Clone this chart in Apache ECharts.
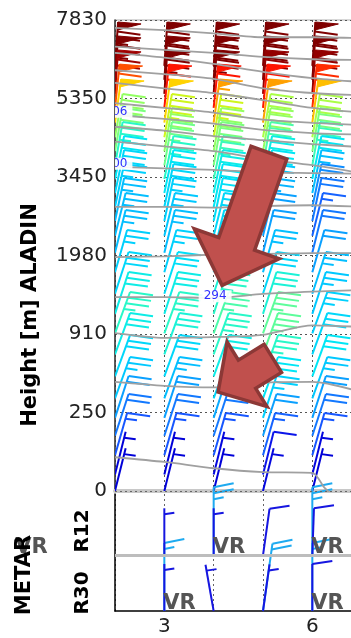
<!DOCTYPE html>
<html><head><meta charset="utf-8">
<script src="https://cdn.jsdelivr.net/npm/echarts@6/dist/echarts.min.js"></script>
<style>html,body{margin:0;padding:0;background:#fff}#c{width:351px;height:638px}</style>
</head><body><div id="c"></div>
<script>
// ---------------- DATA ----------------
const heightTickLabels = ['0','250','910','1980','3450','5350','7830'];
const xTickLabelValues = [3, 6];
const columns = [2, 3, 4, 5, 6];
// model levels (position on the height index axis), top -> bottom
const levels = [5.415,5.237,5.059,4.881,4.693,4.506,4.327,4.149,3.975,3.796,3.618,3.439,3.252,3.036,2.786,2.512,2.257,2.008,1.740,1.460,1.180,0.932,0.703,0.455,0.21,0.0];
// barb tilt (deg, clockwise from north) per level
const levelTilt = [4,4,4,6,8,10,10,10,12,12,12,12,14,14,16,18,18,20,20,20,20,18,18,16,14,14];
// wind speed (kt) per column, top -> bottom
const speedCol2 = [75,75,70,60,50,40,38,33,30,28,27,25,25,25,27,28,31,33,31,28,26,22,18,15,5,5];
const speedCol3 = [80,80,75,65,50,45,40,37,33,30,28,27,26,25,27,29,31,33,32,28,25,22,18,15,5,5];
const speedCol4 = [80,80,75,65,55,45,40,38,34,31,30,29,28,28,30,32,33,35,33,31,28,23,18,15,6,5];
const speedCol5 = [80,78,72,65,55,42,40,35,31,30,26,24,22,22,25,28,32,36,36,33,30,27,22,16,8,6];
const speedCol6 = [80,78,72,63,52,42,38,34,30,25,20,18,16,18,22,25,26,27,28,30,26,22,18,15,6,5];
const speedsByColumn = [speedCol2, speedCol3, speedCol4, speedCol5, speedCol6];

// isentropes: theta (K) and [x, heightIndex] samples
const isoTheta = [318,316,314,312,310,308,306,304,302,300,298,296,294,292,290,288];
const isoLines = [
  [[2,5.90],[3,5.87],[4,5.83],[5,5.78],[6,5.78],[7,5.77]],
  [[2,5.66],[3,5.62],[4,5.58],[5,5.53],[6,5.50],[7,5.49]],
  [[2,5.58],[3,5.52],[4,5.44],[5,5.34],[6,5.26],[7,5.21]],
  [[2,5.36],[3,5.31],[4,5.25],[5,5.13],[6,5.07],[7,5.04]],
  [[2,5.20],[3,5.13],[4,5.07],[5,4.98],[6,4.88],[7,4.82]],
  [[2,4.94],[3,4.88],[4,4.82],[5,4.73],[6,4.69],[7,4.66]],
  [[2,4.79],[3,4.74],[4,4.68],[5,4.60],[6,4.56],[7,4.54]],
  [[2,4.64],[3,4.59],[4,4.52],[5,4.47],[6,4.42],[7,4.38]],
  [[2,4.45],[3,4.39],[4,4.33],[5,4.23],[6,4.15],[7,4.05]],
  [[2,4.13],[3,4.11],[4,4.09],[5,4.06],[6,4.05],[7,4.04]],
  [[2,3.62],[3,3.62],[4,3.61],[5,3.63],[6,3.64],[7,3.62]],
  [[2,2.98],[3,2.99],[4,3.01],[5,3.02],[6,3.03],[7,3.03]],
  [[2,2.47],[3,2.47],[4,2.46],[5,2.51],[6,2.54],[7,2.56]],
  [[2,2.01],[3,1.95],[4,1.96],[5,1.99],[6,2.11],[7,2.09]],
  [[2,1.39],[3,1.34],[4,1.32],[5,1.38],[6,1.39],[7,1.26]],
  [[2,0.43],[3,0.37],[4,0.29],[5,0.24],[6,0.23],[6.25,0.04],[6.5,-0.1]]
];
const isoLabelText = ['306','300','294'];
const isoLabelX = [2.02, 2.02, 4.03];
const isoLabelY = [4.83, 4.17, 2.48];

// METAR rows: R30 anchored at 0, R12 anchored at 1
const metarRowLabels = ['R30','R12'];
const metarWindR12 = [[3,1,5,0],[4,1,5,0],[5,1,10,8],[6,1,10,2]];
const metarGustR12 = [[4,1,25,0],[6,1,25,0]];
const metarWindR30 = [[3,0,5,0],[4,0,5,-10],[5,0,5,8],[6,0,10,0]];
const metarGustR30 = [[3,0,15,0],[5,0,20,8],[6,0,15,0]];
const metarVR = [[0,1],[4,1],[6,1],[3,0],[6,0]];

// annotation arrows: [tailX, tailY, tipX, tipY]
const arrowBig = [5.12, 4.31, 4.17, 2.62];
const arrowSmall = [5.20, 1.69, 4.09, 1.26];

// ---------------- STYLE ----------------
const FONT = '"DejaVu Sans", "Liberation Sans", sans-serif';
const colorStops = [[5,[0,0,216]],[12,[26,50,255]],[17,[20,110,255]],[22,[10,160,255]],[26,[0,200,255]],[30,[0,230,245]],[33,[40,248,200]],[37,[110,255,140]],[42,[170,255,70]],[47,[230,240,0]],[50,[255,210,0]],[55,[255,160,0]],[60,[255,80,0]],[65,[255,20,0]],[70,[160,0,0]],[75,[128,0,0]]];
function speedColor(s){
  if (s <= colorStops[0][0]) return 'rgb(' + colorStops[0][1].join(',') + ')';
  for (let i = 1; i < colorStops.length; i++) {
    if (s <= colorStops[i][0]) {
      const a = colorStops[i-1], b = colorStops[i];
      const f = (s - a[0]) / (b[0] - a[0]);
      const c = a[1].map((v, k) => Math.round(v + (b[1][k] - v) * f));
      return 'rgb(' + c.join(',') + ')';
    }
  }
  return 'rgb(' + colorStops[colorStops.length-1][1].join(',') + ')';
}

function makeBarbRenderer(len, slope, fixedColor, lw, FL) {
  return function (params, api) {
    const p = api.coord([api.value(0), api.value(1)]);
    const spd = api.value(2);
    const t = api.value(3) * Math.PI / 180;
    const color = fixedColor || speedColor(spd);
    const ux = Math.sin(t), uy = -Math.cos(t);
    const ex = p[0] + ux * len, ey = p[1] + uy * len;
    const st = {stroke: color, lineWidth: lw, lineCap: 'butt'};
    const ch = [{type: 'line', shape: {x1: p[0], y1: p[1], x2: ex, y2: ey}, style: st}];
    let r = Math.round(spd / 5) * 5;
    const nP = Math.floor(r / 50); r -= nP * 50;
    const nF = Math.floor(r / 10); r -= nF * 10;
    const nH = r >= 5 ? 1 : 0;
    const PW = 8, SP = 6;
    const at = o => [ex - ux * o, ey - uy * o];
    let off = 0;
    for (let i = 0; i < nP; i++) {
      const a = at(off), c = at(off + PW);
      ch.push({type: 'polygon', shape: {points: [a, [a[0] + FL, a[1] + FL * slope * 0.6], c]}, style: {fill: color, stroke: color, lineWidth: 1}});
      off += PW + 1.5;
    }
    for (let i = 0; i < nF; i++) {
      const a = at(off);
      ch.push({type: 'line', shape: {x1: a[0], y1: a[1], x2: a[0] + FL, y2: a[1] + FL * slope}, style: st});
      off += SP;
    }
    if (nH) {
      if (nP + nF === 0) off = SP;
      const a = at(off);
      ch.push({type: 'line', shape: {x1: a[0], y1: a[1], x2: a[0] + FL / 2, y2: a[1] + FL / 2 * slope}, style: st});
    }
    return {type: 'group', children: ch};
  };
}

const arrowStyle = {big: {shaft: 38, head: 90, headLen: 44}, small: {shaft: 33, head: 76, headLen: 34}};
function makeArrowRenderer(geom) {
  return function (params, api) {
    const a = api.coord([api.value(0), api.value(1)]);
    const b = api.coord([api.value(2), api.value(3)]);
    const dx = b[0] - a[0], dy = b[1] - a[1];
    const L = Math.hypot(dx, dy);
    const d = [dx / L, dy / L], n = [-d[1], d[0]];
    const hb = [b[0] - d[0] * geom.headLen, b[1] - d[1] * geom.headLen];
    const P = (pt, k) => [pt[0] + n[0] * k, pt[1] + n[1] * k];
    const pts = [P(a, geom.shaft / 2), P(hb, geom.shaft / 2), P(hb, geom.head / 2), b, P(hb, -geom.head / 2), P(hb, -geom.shaft / 2), P(a, -geom.shaft / 2)];
    return {type: 'polygon', shape: {points: pts}, style: {fill: '#c0504d', stroke: '#8c3836', lineWidth: 3.5, lineJoin: 'miter'}};
  };
}

// ---------------- BUILD ----------------
const barbData = [];
columns.forEach((x, ci) => {
  levels.forEach((lv, li) => {
    barbData.push([x, lv, speedsByColumn[ci][li], levelTilt[li]]);
  });
});

const series = [];
series.push({
  type: 'custom', xAxisIndex: 0, yAxisIndex: 0, clip: true, z: 2, silent: true,
  renderItem: makeBarbRenderer(44, 0.14, null, 2, 23), data: barbData
});
isoLines.forEach((ln, i) => {
  const s = {
    type: 'line', name: String(isoTheta[i]), xAxisIndex: 0, yAxisIndex: 0, data: ln,
    showSymbol: false, symbol: 'none', smooth: 0.25, clip: true, silent: true, z: 3,
    lineStyle: {color: '#a0a0a0', width: 1.8}
  };
  if (i === 0) {
    s.markLine = {silent: true, symbol: 'none', label: {show: false}, animation: false,
      lineStyle: {color: '#666', type: [2, 3], width: 1}, data: [{yAxis: 0}]};
  }
  series.push(s);
});
series.push({
  type: 'custom', xAxisIndex: 0, yAxisIndex: 0, clip: true, z: 4, silent: true,
  data: isoLabelText.map((t, i) => [isoLabelX[i], isoLabelY[i], i]),
  renderItem: function (params, api) {
    const p = api.coord([api.value(0), api.value(1)]);
    return {type: 'text', x: p[0], y: p[1], style: {text: isoLabelText[api.value(2)], align: 'center', verticalAlign: 'middle',
      fill: '#3030ff', font: '12px ' + FONT, backgroundColor: 'rgba(255,255,255,0.9)', padding: [0, 5]}};
  }
});
series.push({type: 'custom', xAxisIndex: 0, yAxisIndex: 0, clip: false, z: 6, silent: true,
  renderItem: makeArrowRenderer(arrowStyle.big), data: [arrowBig]});
series.push({type: 'custom', xAxisIndex: 0, yAxisIndex: 0, clip: false, z: 6, silent: true,
  renderItem: makeArrowRenderer(arrowStyle.small), data: [arrowSmall]});

// METAR panel
const metarDark = '#1616e0', metarLight = '#1eaaf0';
series.push({type: 'custom', xAxisIndex: 1, yAxisIndex: 1, clip: false, z: 3, silent: true,
  renderItem: makeBarbRenderer(68, -0.2, metarLight, 2, 20), data: metarGustR30.concat(metarGustR12),
  markLine: {silent: true, symbol: 'none', label: {show: false}, animation: false,
    lineStyle: {color: '#bdbdbd', type: 'solid', width: 3}, data: [{yAxis: 1}]}});
series.push({type: 'custom', xAxisIndex: 1, yAxisIndex: 1, clip: false, z: 4, silent: true,
  renderItem: makeBarbRenderer(47, -0.15, metarDark, 2, 20), data: metarWindR30.concat(metarWindR12)});
series.push({type: 'custom', xAxisIndex: 1, yAxisIndex: 1, clip: false, z: 5, silent: true,
  data: metarVR,
  renderItem: function (params, api) {
    const p = api.coord([api.value(0), api.value(1)]);
    return {type: 'text', x: p[0] - 1, y: p[1] + 3, style: {text: 'VR', align: 'left', verticalAlign: 'bottom',
      fill: '#555', font: 'bold 21px ' + FONT}};
  }
});

const option = {
  animation: false,
  backgroundColor: '#fff',
  grid: [
    {left: 115, top: 20, width: 246.65, height: 471, outerBoundsMode: 'none', containLabel: false, show: true, borderColor: '#b0b0b0', borderWidth: 1, backgroundColor: 'transparent'},
    {left: 115, top: 494, width: 246.65, height: 117, outerBoundsMode: 'none', containLabel: false}
  ],
  xAxis: [
    {gridIndex: 0, type: 'value', min: 2, max: 7, interval: 1, position: 'bottom',
      axisLine: {show: true, onZero: false, lineStyle: {color: '#c8c8c8', width: 4}},
      axisTick: {show: false}, axisLabel: {show: false},
      splitLine: {show: true, lineStyle: {color: '#555', type: [2, 3], width: 1}}},
    {gridIndex: 1, type: 'value', min: 2, max: 7, interval: 1, position: 'bottom',
      axisLine: {show: true, onZero: false, lineStyle: {color: '#000', width: 1.5}},
      axisTick: {show: false},
      axisLabel: {show: true, margin: 6, fontSize: 20, fontFamily: FONT, color: '#222',
        formatter: v => (xTickLabelValues.indexOf(v) >= 0 ? String(v) : '')},
      splitLine: {show: true, lineStyle: {color: '#666', type: [2, 3], width: 1}}}
  ],
  yAxis: [
    {gridIndex: 0, type: 'value', min: 0, max: 6, interval: 1,
      axisLine: {show: true, onZero: false, lineStyle: {color: '#333', width: 1.5}},
      axisTick: {show: false},
      axisLabel: {show: true, margin: 8, fontSize: 20, fontFamily: FONT, color: '#222', padding: [0, 0, 9, 0],
        formatter: v => (heightTickLabels[Math.round(v)] !== undefined && Math.abs(v - Math.round(v)) < 1e-6 ? heightTickLabels[Math.round(v)] : '')},
      splitLine: {show: true, lineStyle: {color: '#555', type: [2, 3], width: 1}}},
    {gridIndex: 1, type: 'value', min: 0, max: 2.1,
      axisLine: {show: true, onZero: false, lineStyle: {color: '#000', width: 1.5}},
      axisTick: {show: false}, axisLabel: {show: false}, splitLine: {show: false}}
  ],
  graphic: [
    {type: 'text', x: 31, y: 315, rotation: Math.PI / 2, z: 100,
      style: {text: 'Height [m] ALADIN', align: 'center', verticalAlign: 'middle', fill: '#000', font: 'bold 21px ' + FONT}},
    {type: 'text', x: 25, y: 575, rotation: Math.PI / 2, z: 100,
      style: {text: 'METAR', align: 'center', verticalAlign: 'middle', fill: '#000', font: 'bold 21px ' + FONT}},
    {type: 'text', x: 83, y: 593, rotation: Math.PI / 2, z: 100,
      style: {text: metarRowLabels[0], align: 'center', verticalAlign: 'middle', fill: '#000', font: 'bold 20px ' + FONT}},
    {type: 'text', x: 83, y: 531, rotation: Math.PI / 2, z: 100,
      style: {text: metarRowLabels[1], align: 'center', verticalAlign: 'middle', fill: '#000', font: 'bold 20px ' + FONT}}
  ],
  series: series
};

const chart = echarts.init(document.getElementById('c'), null, {renderer: 'canvas', width: 351, height: 638});
chart.setOption(option);
</script>
</body></html>
